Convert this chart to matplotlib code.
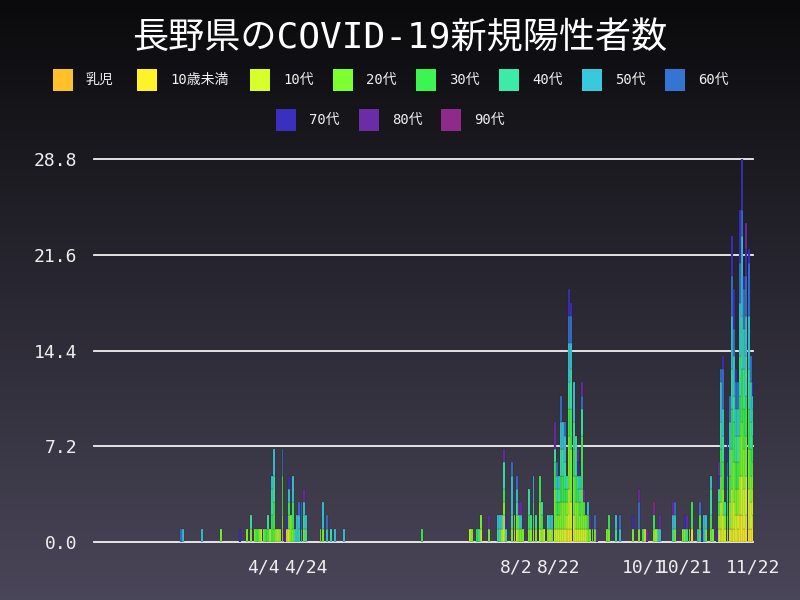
import matplotlib
matplotlib.use("Agg")
import matplotlib.pyplot as plt
import numpy as np
import pandas as pd
from matplotlib.patches import Rectangle

plt.rcParams['font.family'] = ['DejaVu Sans Mono', 'Noto Sans CJK JP']

title = "長野県のCOVID-19新規陽性者数"
age_labels = ["乳児", "10歳未満", "10代", "20代", "30代", "40代", "50代", "60代", "70代", "80代", "90代"]
age_colors = ["#FFC12A", "#FFF22A", "#D8FF2A", "#7EFF2E", "#3AF552", "#3CEBA8",
              "#38C9DC", "#3574D0", "#3A2FBF", "#6A2DA6", "#8E2A8A"]
start_date = "2020-01-15"
end_date = "2020-11-22"
xtick_labels = ["4/4", "4/24", "8/2", "8/22", "10/1", "10/21", "11/22"]
ytick_values = [0.0, 7.2, 14.4, 21.6, 28.8]

# daily new cases by age group (date -> count)
infant = {"4/13": 1}
under10 = {"4/15": 1, "8/26": 1, "8/27": 1, "8/28": 1, "10/2": 1, "10/24": 1, "11/7": 1,
           "11/12": 1, "11/13": 1, "11/15": 1, "11/16": 2, "11/17": 2, "11/18": 1,
           "11/19": 2, "11/20": 1, "11/21": 1, "11/22": 2}
teens = {"4/3": 1, "4/7": 1, "4/11": 1, "4/16": 1, "7/11": 1, "7/16": 1, "7/26": 1, "7/27": 2,
         "8/1": 1, "8/2": 1, "8/10": 1, "8/13": 1, "8/15": 1, "8/18": 1, "8/20": 1, "8/21": 1,
         "8/22": 1, "8/23": 1, "8/24": 1, "8/25": 1, "8/26": 1, "8/27": 3, "8/28": 2, "8/29": 2,
         "8/30": 1, "8/31": 1, "9/1": 1, "9/2": 1, "9/3": 1, "9/4": 1, "10/7": 1, "11/6": 1,
         "11/7": 2, "11/8": 2, "11/9": 1, "11/10": 1, "11/11": 1, "11/12": 3, "11/13": 2,
         "11/14": 2, "11/15": 1, "11/16": 3, "11/17": 3, "11/18": 3, "11/19": 3, "11/20": 3,
         "11/21": 2, "11/22": 2}
twenties = {"3/15": 1, "3/27": 1, "3/29": 1, "3/31": 1, "4/2": 1, "4/4": 1, "4/9": 1, "4/10": 1,
            "4/12": 1, "4/13": 1, "4/16": 1, "4/17": 2, "4/18": 1, "4/23": 1, "5/1": 1, "5/2": 1,
            "7/12": 1, "7/16": 1, "7/20": 1, "7/27": 1, "7/31": 1, "8/1": 1, "8/2": 1, "8/3": 1,
            "8/4": 1, "8/5": 1, "8/8": 1, "8/9": 1, "8/10": 1, "8/11": 1, "8/13": 2, "8/14": 1,
            "8/17": 1, "8/19": 1, "8/20": 3, "8/21": 1, "8/22": 1, "8/23": 2, "8/24": 2,
            "8/25": 2, "8/26": 1, "8/27": 4, "8/28": 4, "8/29": 3, "8/30": 2, "8/31": 2,
            "9/1": 1, "9/2": 3, "9/3": 1, "9/4": 1, "9/5": 1, "9/6": 1, "9/7": 1, "9/8": 1,
            "9/14": 1, "9/15": 1, "9/26": 1, "9/29": 1, "10/6": 1, "10/16": 1, "10/20": 1,
            "10/21": 1, "10/23": 1, "10/28": 1, "10/31": 1, "11/2": 1, "11/3": 1, "11/6": 1,
            "11/7": 2, "11/8": 2, "11/9": 1, "11/10": 1, "11/11": 2, "11/12": 3, "11/13": 3,
            "11/14": 2, "11/15": 2, "11/16": 3, "11/17": 4, "11/18": 3, "11/19": 3,
            "11/20": 3, "11/21": 2, "11/22": 2}
thirties = {"4/1": 1, "4/5": 1, "4/6": 1, "4/8": 2, "4/9": 2, "4/13": 3, "4/16": 1, "4/18": 2,
            "6/18": 1, "7/14": 1, "7/27": 1, "8/8": 1, "8/13": 2, "8/14": 1, "8/20": 2,
            "8/21": 1, "8/22": 1, "8/23": 2, "8/24": 2, "8/25": 1, "8/26": 1, "8/27": 2,
            "8/28": 3, "8/29": 2, "8/30": 2, "8/31": 1, "9/1": 1, "9/2": 4, "9/3": 1, "9/5": 1,
            "9/15": 1, "10/1": 1, "10/6": 1, "10/24": 2, "10/28": 1, "11/2": 1, "11/6": 1,
            "11/7": 2, "11/8": 2, "11/10": 1, "11/11": 2, "11/12": 3, "11/13": 3, "11/14": 2,
            "11/15": 2, "11/16": 3, "11/17": 4, "11/18": 3, "11/19": 3, "11/20": 3,
            "11/21": 2, "11/22": 2}
forties = {"3/29": 1, "4/6": 1, "4/8": 2, "4/9": 2, "4/19": 1, "4/21": 1, "4/23": 1, "4/24": 1,
           "5/6": 1, "7/15": 1, "7/24": 1, "7/25": 1, "7/26": 1, "7/27": 2, "7/28": 1,
           "7/31": 1, "8/2": 1, "8/3": 1, "8/8": 2, "8/9": 1, "8/10": 1, "8/11": 1, "8/14": 1,
           "8/17": 1, "8/20": 1, "8/21": 1, "8/22": 1, "8/23": 2, "8/24": 2, "8/25": 2,
           "8/26": 1, "8/27": 2, "8/28": 3, "8/29": 2, "8/30": 3, "8/31": 1, "9/1": 1,
           "9/2": 2, "9/18": 1, "10/8": 1, "10/15": 1, "10/22": 1, "11/2": 2, "11/6": 1,
           "11/7": 2, "11/8": 2, "11/9": 1, "11/10": 1, "11/11": 2, "11/12": 3, "11/13": 2,
           "11/14": 2, "11/15": 2, "11/16": 3, "11/17": 4, "11/18": 3, "11/19": 3,
           "11/20": 3, "11/21": 2, "11/22": 2}
fifties = {"2/26": 1, "3/6": 1, "4/8": 1, "4/9": 2, "4/16": 1, "4/18": 2, "4/20": 2, "4/21": 1,
           "4/22": 1, "4/23": 1, "4/24": 1, "5/2": 2, "5/4": 1, "5/8": 1, "5/12": 1, "7/24": 1,
           "7/25": 1, "7/31": 3, "8/2": 1, "8/4": 1, "8/10": 2, "8/18": 1, "8/19": 1,
           "8/21": 1, "8/22": 1, "8/23": 2, "8/24": 2, "8/25": 2, "8/27": 3, "8/28": 2,
           "8/29": 3, "9/1": 1, "9/5": 1, "9/18": 1, "9/20": 1, "10/9": 1, "10/15": 1,
           "10/16": 1, "10/27": 1, "10/30": 2, "10/31": 1, "11/2": 1, "11/7": 3, "11/8": 2,
           "11/10": 1, "11/11": 2, "11/12": 4, "11/13": 3, "11/14": 2, "11/15": 2,
           "11/16": 4, "11/17": 6, "11/18": 3, "11/19": 3, "11/20": 4, "11/21": 3, "11/22": 1}
sixties = {"2/25": 1, "4/13": 2, "4/21": 1, "4/22": 2, "5/4": 1, "7/31": 1, "8/2": 1, "8/21": 1,
           "8/23": 2, "8/25": 1, "8/27": 2, "8/28": 2, "9/2": 1, "9/8": 1, "9/20": 1,
           "9/29": 2, "10/16": 1, "10/28": 1, "11/7": 1, "11/8": 3, "11/10": 1, "11/11": 2,
           "11/12": 3, "11/13": 2, "11/14": 2, "11/15": 2, "11/16": 3, "11/17": 2,
           "11/18": 3, "11/19": 3, "11/20": 4, "11/21": 2}
seventies = {"3/24": 1, "4/14": 1, "4/15": 1, "4/16": 1, "7/28": 1, "8/27": 2, "8/28": 1,
             "8/31": 1, "9/26": 1, "10/21": 1, "10/29": 1, "11/5": 1, "11/6": 1, "11/8": 1,
             "11/10": 2, "11/12": 3, "11/13": 3, "11/14": 1, "11/16": 4, "11/17": 4,
             "11/18": 1, "11/19": 2, "11/20": 1, "11/22": 1}
eighties = {"4/23": 1, "7/20": 1, "7/27": 1, "8/3": 1, "8/4": 1, "8/20": 2, "8/31": 1,
            "9/2": 1, "9/3": 1, "9/6": 1, "9/9": 1, "9/29": 1, "10/3": 1, "10/9": 1,
            "10/15": 1, "10/22": 1, "11/6": 1, "11/19": 2}
nineties = {"10/6": 1}

series = [infant, under10, teens, twenties, thirties, forties, fifties,
          sixties, seventies, eighties, nineties]

# ---------------------------------------------------------------
W, H = 800, 600
fig = plt.figure(figsize=(8, 6), dpi=100)

# background gradient
bg = fig.add_axes([0, 0, 1, 1], zorder=-10)
top = np.array([10, 10, 12]) / 255.0
bot = np.array([74, 70, 89]) / 255.0
t = np.linspace(0, 1, 300)[:, None]
grad = top[None, :] * (1 - t) + bot[None, :] * t
bg.imshow(grad[:, None, :], aspect='auto', extent=[0, 1, 0, 1])
bg.axis('off')

days = pd.date_range(start_date, end_date)
keys = [f"{d.month}/{d.day}" for d in days]
xs = np.arange(len(days))

ax_l, ax_r, ax_t, ax_b = 94, 753, 159, 542
ax = fig.add_axes([ax_l / W, 1 - ax_b / H, (ax_r - ax_l) / W, (ax_b - ax_t) / H])
ax.set_facecolor('none')

bottom = np.zeros(len(days))
for ser, col in zip(series, age_colors):
    vals = np.array([ser.get(k, 0) for k in keys], dtype=float)
    mask = vals > 0
    ax.bar(xs[mask], vals[mask], bottom=bottom[mask], width=0.92, color=col,
           edgecolor=(0.1, 0.1, 0.15, 0.45), linewidth=0.3, zorder=3)
    bottom += vals

ax.set_ylim(0, ytick_values[-1])
ax.set_xlim(-0.4, len(days) - 0.9)

for yv in ytick_values:
    ax.axhline(yv, color='#f2f2f2', lw=1.3, zorder=2, clip_on=False)

ax.set_yticks(ytick_values)
ax.set_yticklabels([f"{v:.1f}" for v in ytick_values])
key_index = {k: i for i, k in enumerate(keys)}
ax.set_xticks([key_index[k] for k in xtick_labels])
ax.set_xticklabels(xtick_labels)
ax.tick_params(axis='y', length=0, pad=12, labelsize=13, colors='#eeeeee')
ax.tick_params(axis='x', length=0, pad=12, labelsize=13, colors='#eeeeee')
for s in ax.spines.values():
    s.set_visible(False)

# title
fig.text(0.5, 1 - 38 / H, title, ha='center', va='center', color='white', fontsize=26)

# legend
row1 = [53, 137, 250, 333, 416, 499, 582, 665]
row2 = [276, 359, 441]
positions = [(x, 80) for x in row1] + [(x, 120) for x in row2]
for (px, py), lab, col in zip(positions, age_labels, age_colors):
    fig.patches.append(Rectangle((px / W, 1 - (py + 10.5) / H), 20 / W, 21 / H,
                                 transform=fig.transFigure, facecolor=col,
                                 edgecolor='none'))
    fig.text((px + 33) / W, 1 - py / H, lab, ha='left', va='center',
             color='#f0f0f0', fontsize=10)

fig.savefig("out.png", dpi=100)
